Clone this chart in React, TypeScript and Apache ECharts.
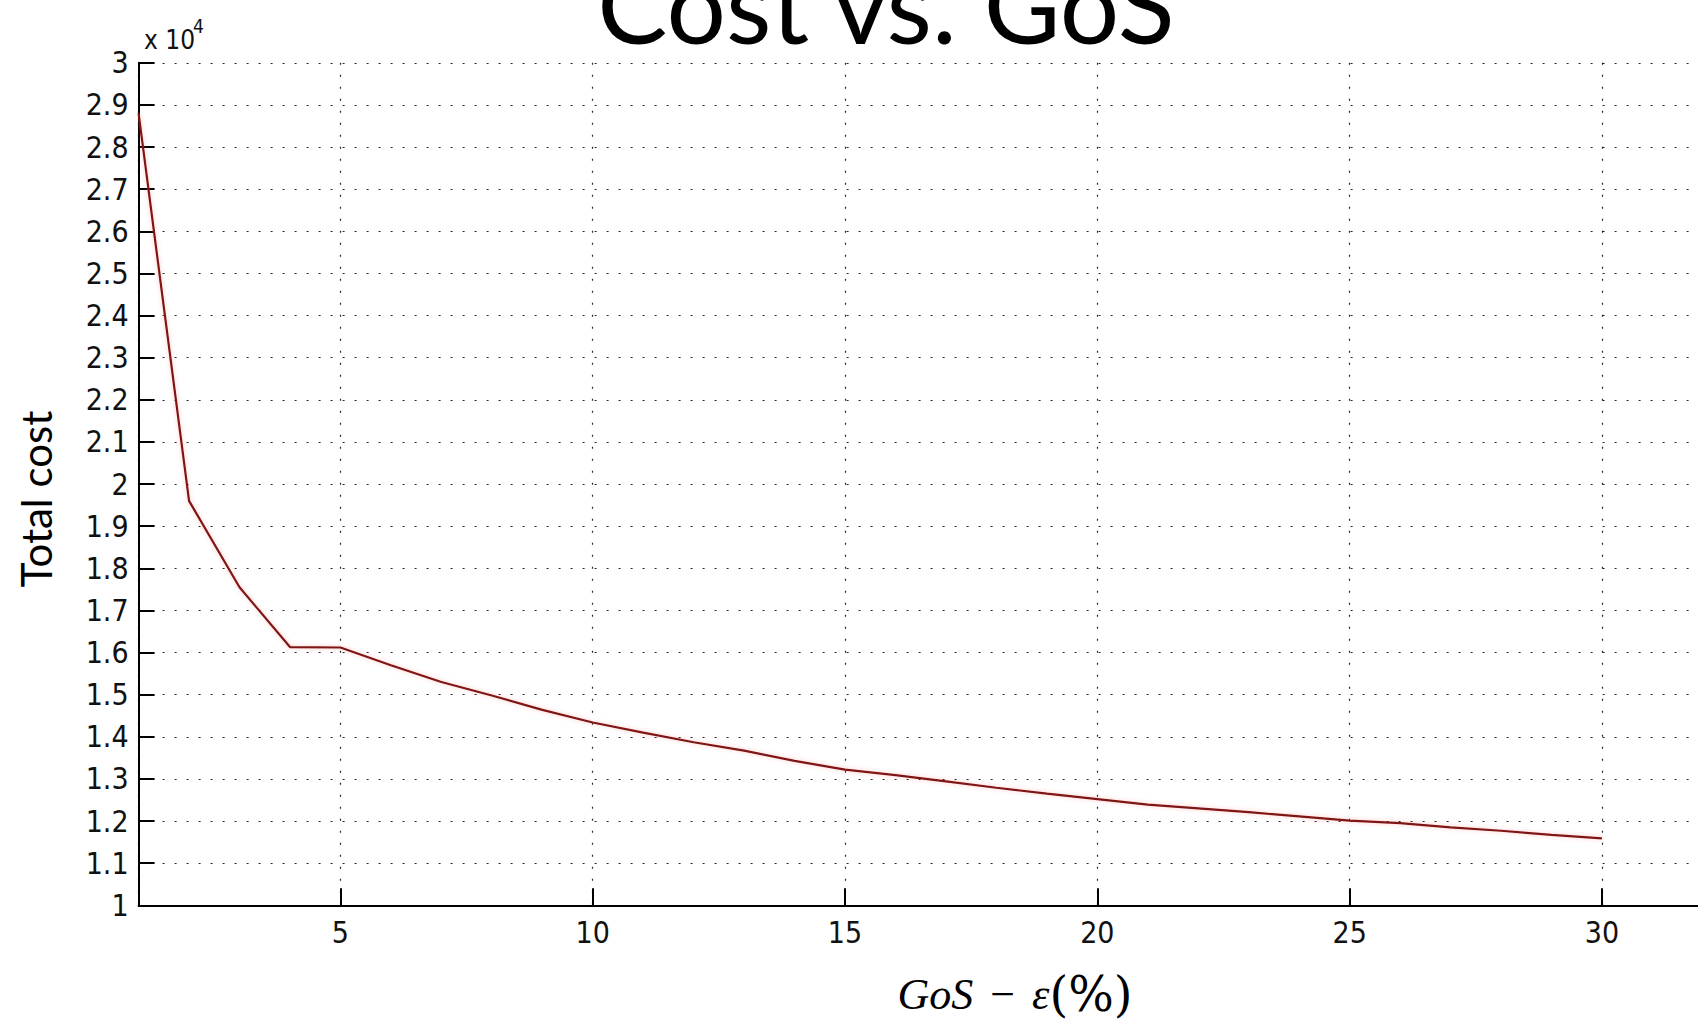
import React, { useEffect, useRef } from 'react';
import * as echarts from 'echarts';

// GoS - epsilon (%) values
const gosPercent = [
  1, 2, 3, 4, 5, 6, 7, 8, 9, 10,
  11, 12, 13, 14, 15, 16, 17, 18, 19, 20,
  21, 22, 23, 24, 25, 26, 27, 28, 29, 30,
];
// Total cost values
const totalCost = [
  28800, 19600, 17550, 16130, 16120, 15700, 15300, 14980, 14640, 14340,
  14100, 13870, 13670, 13430, 13220, 13090, 12940, 12790, 12650, 12520,
  12390, 12300, 12210, 12110, 12010, 11950, 11850, 11770, 11670, 11590,
];
const yScaleFactor = 10000;
const titleText = 'Cost vs. GoS';
const yAxisName = 'Total cost';

export default function App() {
  const ref = useRef<HTMLDivElement>(null);
  useEffect(() => {
    document.body.style.margin = '0';
    const chart = echarts.init(ref.current as HTMLDivElement, null, { renderer: 'svg' });
    const left = 138.6;
    const top = 62.8;
    const plotH = 842.5;
    const unitW = 50.46;
    const xMin = 1;
    const xMax = 35;
    const tickFont = "'Liberation Sans Narrow', 'DejaVu Sans Condensed', 'Liberation Sans', sans-serif";
    const dotted = { type: [2, 10], color: '#000', width: 1.2, opacity: 0.85 };
    const nb = '\u00a0';
    chart.setOption({
      animation: false,
      backgroundColor: '#ffffff',
      grid: {
        left,
        top,
        width: (xMax - xMin) * unitW,
        height: plotH,
        containLabel: false,
        outerBoundsMode: 'none',
      },
      xAxis: {
        type: 'value',
        min: xMin,
        max: xMax,
        splitNumber: 7,
        axisLine: { show: true, lineStyle: { color: '#000', width: 2 } },
        axisTick: { show: true, inside: true, length: 17, lineStyle: { color: '#000', width: 2 } },
        axisLabel: {
          showMinLabel: false,
          showMaxLabel: false,
          margin: 12,
          color: '#111',
          fontSize: 30,
          fontFamily: tickFont,
        },
        splitLine: { show: true, lineStyle: dotted },
      },
      yAxis: {
        type: 'value',
        min: 10000,
        max: 30000,
        interval: 1000,
        axisLine: { show: true, lineStyle: { color: '#000', width: 2 } },
        axisTick: { show: true, inside: true, length: 16, lineStyle: { color: '#000', width: 2 } },
        axisLabel: {
          margin: 10,
          color: '#111',
          fontSize: 30,
          fontFamily: tickFont,
          formatter: (v: number) => String(Number((v / yScaleFactor).toFixed(1))),
        },
        splitLine: { show: true, lineStyle: dotted },
      },
      series: [
        {
          type: 'line',
          data: gosPercent.map((x, i) => [x, totalCost[i]]),
          showSymbol: false,
          lineStyle: {
            color: '#7e1818',
            width: 2.2,
            shadowBlur: 4,
            shadowColor: 'rgba(255,80,80,0.35)',
          },
        },
      ],
      graphic: [
        {
          type: 'text',
          x: 886,
          y: 3,
          style: {
            text: titleText,
            fill: '#000',
            fontSize: 105,
            fontFamily: 'Lato, "Open Sans", sans-serif',
            textAlign: 'center',
            textVerticalAlign: 'middle',
          },
        },
        {
          type: 'text',
          x: 144,
          y: 40,
          style: {
            text: 'x 10',
            fill: '#111',
            fontSize: 26,
            fontFamily: tickFont,
            textAlign: 'left',
            textVerticalAlign: 'middle',
          },
        },
        {
          type: 'text',
          x: 193,
          y: 26,
          style: {
            text: '4',
            fill: '#111',
            fontSize: 19,
            fontFamily: tickFont,
            textAlign: 'left',
            textVerticalAlign: 'middle',
          },
        },
        {
          type: 'text',
          x: 36,
          y: 499,
          rotation: Math.PI / 2,
          style: {
            text: yAxisName,
            fill: '#000',
            fontSize: 42,
            fontFamily: 'Lato, "Open Sans", sans-serif',
            textAlign: 'center',
            textVerticalAlign: 'middle',
          },
        },
        {
          type: 'text',
          x: 1015,
          y: 994,
          style: {
            text: `{i|GoS}{n|${nb}−${nb}}{i|ε}{p|(%)}`,
            textAlign: 'center',
            textVerticalAlign: 'middle',
            rich: {
              i: { fontSize: 44, fontStyle: 'italic', fontFamily: '"Liberation Serif", serif', fill: '#000' },
              n: { fontSize: 44, fontFamily: '"Liberation Serif", serif', fill: '#000', padding: [0, 6, 0, 6] },
              p: { fontSize: 48, fontFamily: '"DejaVu Serif", serif', fill: '#000' },
            },
          },
        },
      ],
    });
    return () => chart.dispose();
  }, []);
  return <div ref={ref} style={{ width: 1698, height: 1021 }} />;
}
